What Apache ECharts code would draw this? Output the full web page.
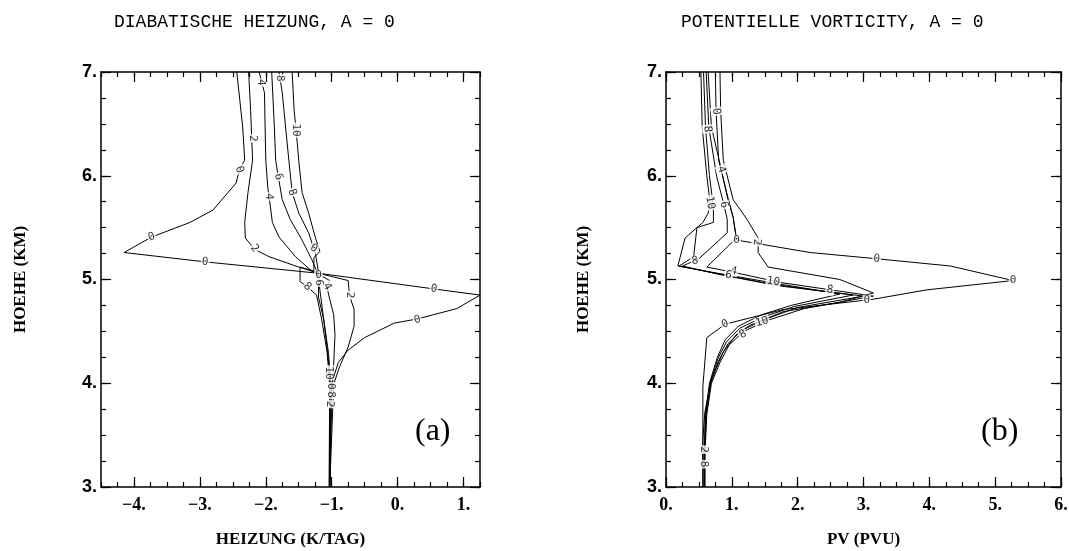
<!DOCTYPE html>
<html>
<head>
<meta charset="utf-8">
<script src="https://cdn.jsdelivr.net/npm/echarts@6/dist/echarts.min.js"></script>
<style>
  html, body { margin: 0; padding: 0; background: #fff; }
  #chart { width: 1069px; height: 551px; }
</style>
</head>
<body>
<div id="chart"></div>
<script>
// tick labels
const heizTicks = [-4, -3, -2, -1, 0, 1];
const pvTicks = [0, 1, 2, 3, 4, 5, 6];
const hoeheTicks = [3, 4, 5, 6, 7];

// (a) Diabatische Heizung: [K/Tag, km]
const heiz0 = [[-2.44, 7.0], [-2.35, 6.47], [-2.32, 6.15], [-2.40, 6.06], [-2.45, 5.93], [-2.80, 5.67], [-3.15, 5.55], [-3.73, 5.41], [-4.15, 5.26], [-2.92, 5.17], [-1.20, 5.06], [0.54, 4.91], [1.25, 4.85], [0.90, 4.72], [0.30, 4.62], [-0.05, 4.58], [-0.50, 4.44], [-0.75, 4.32], [-0.90, 4.20], [-0.97, 4.06], [-1.00, 3.97], [-1.03, 3.0]];
const heiz2 = [[-2.26, 7.0], [-2.23, 6.63], [-2.20, 6.15], [-2.27, 5.84], [-2.32, 5.55], [-2.31, 5.40], [-2.17, 5.29], [-1.95, 5.22], [-1.50, 5.12], [-1.20, 5.06], [-0.75, 4.99], [-0.73, 4.85], [-0.66, 4.71], [-0.66, 4.55], [-0.75, 4.35], [-0.88, 4.16], [-0.97, 3.99], [-1.03, 3.0]];
const heiz4 = [[-2.10, 7.0], [-2.02, 6.80], [-2.01, 6.47], [-2.00, 6.15], [-1.97, 5.89], [-1.93, 5.70], [-1.90, 5.55], [-1.80, 5.41], [-1.55, 5.22], [-1.30, 5.08], [-1.20, 5.05], [-1.03, 4.99], [-1.07, 4.92], [-1.03, 4.81], [-0.97, 4.66], [-0.95, 4.47], [-0.97, 4.18], [-1.00, 3.94], [-1.03, 3.0]];
const heiz6 = [[-1.91, 7.0], [-1.87, 6.47], [-1.85, 6.15], [-1.81, 5.99], [-1.75, 5.77], [-1.63, 5.58], [-1.45, 5.38], [-1.30, 5.19], [-1.22, 5.07], [-1.20, 4.97], [-1.20, 4.83], [-1.12, 4.61], [-1.05, 4.30], [-1.01, 3.99], [-1.03, 3.0]];
const heiz8 = [[-1.80, 7.0], [-1.75, 6.80], [-1.70, 6.47], [-1.65, 6.15], [-1.60, 5.84], [-1.50, 5.64], [-1.35, 5.45], [-1.25, 5.26], [-1.20, 5.07], [-1.48, 5.12], [-1.48, 4.98], [-1.37, 4.93], [-1.23, 4.85], [-1.15, 4.61], [-1.07, 4.30], [-1.03, 3.99], [-1.03, 3.0]];
const heiz10 = [[-1.60, 7.0], [-1.57, 6.63], [-1.54, 6.44], [-1.50, 6.15], [-1.45, 5.84], [-1.35, 5.64], [-1.25, 5.41], [-1.18, 5.27], [-1.27, 5.21], [-1.27, 5.09], [-1.20, 5.04], [-1.18, 4.90], [-1.12, 4.61], [-1.05, 4.23], [-1.03, 3.94], [-1.04, 3.0]];
// contour labels: [x, y, text, rotate]
const heizLabels = [
  [-2.40, 6.06, '0', -70], [-3.73, 5.41, '0', 20], [-2.92, 5.17, '0', -5], [0.55, 4.91, '0', -8], [0.30, 4.61, '0', 15], [-1.20, 5.04, '0', 0],
  [-2.20, 6.36, '2', -90], [-2.17, 5.30, '2', -50], [-0.73, 4.85, '2', -90], [-1.03, 3.80, '2', -90],
  [-2.08, 6.90, '4', -90], [-1.96, 5.80, '4', -90], [-1.07, 4.93, '4', -60],
  [-1.81, 5.99, '6', -75], [-1.20, 4.97, '6', -90],
  [-1.78, 6.94, '8', -90], [-1.60, 5.84, '8', -70], [-1.37, 4.93, '8', -40], [-1.02, 3.89, '8', -90],
  [-1.54, 6.44, '10', -90], [-1.27, 5.30, '0', -30], [-1.05, 4.10, '10', -90], [-1.02, 3.97, '0', -90]
];

// (b) Potentielle Vorticity: [PVU, km]
const pv0 = [[0.75, 7.0], [0.76, 6.63], [0.80, 6.15], [0.92, 5.84], [1.02, 5.60], [1.07, 5.38], [2.19, 5.26], [3.20, 5.20], [4.32, 5.13], [5.27, 4.99], [3.96, 4.90], [3.15, 4.81], [1.78, 4.71], [0.90, 4.57], [0.62, 4.44], [0.56, 3.97], [0.56, 3.0]];
const pv2 = [[0.82, 7.0], [0.83, 6.63], [0.87, 6.15], [1.02, 5.77], [1.23, 5.58], [1.40, 5.40], [1.40, 5.26], [1.55, 5.12], [2.64, 5.00], [3.15, 4.87], [2.64, 4.78], [1.78, 4.69], [1.28, 4.56], [1.07, 4.47], [0.87, 4.30], [0.69, 4.04], [0.59, 3.72], [0.56, 3.46], [0.56, 3.0]];
const pv4 = [[0.64, 7.0], [0.69, 6.47], [0.84, 6.06], [0.94, 5.77], [1.02, 5.60], [1.07, 5.40], [0.62, 5.12], [1.02, 5.07], [1.75, 4.97], [3.15, 4.84], [2.10, 4.72], [1.56, 4.61], [1.18, 4.50], [0.96, 4.37], [0.82, 4.20], [0.69, 4.0], [0.62, 3.7], [0.59, 3.3], [0.59, 3.0]];
const pv6 = [[0.61, 7.0], [0.65, 6.47], [0.77, 5.99], [0.88, 5.72], [0.93, 5.58], [0.93, 5.45], [0.50, 5.20], [0.25, 5.13], [0.80, 5.05], [1.70, 4.94], [3.00, 4.84], [2.00, 4.73], [1.52, 4.62], [1.15, 4.51], [0.94, 4.38], [0.80, 4.22], [0.68, 4.0], [0.61, 3.7], [0.59, 3.3], [0.59, 3.0]];
const pv8 = [[0.57, 7.0], [0.60, 6.47], [0.66, 6.0], [0.72, 5.70], [0.72, 5.55], [0.47, 5.50], [0.42, 5.22], [0.20, 5.13], [0.75, 5.06], [1.65, 4.95], [2.84, 4.85], [1.95, 4.74], [1.48, 4.64], [1.12, 4.53], [0.92, 4.40], [0.79, 4.24], [0.67, 4.0], [0.60, 3.7], [0.58, 3.3], [0.58, 3.0]];
const pv10 = [[0.53, 7.0], [0.55, 6.47], [0.62, 6.0], [0.67, 5.74], [0.64, 5.64], [0.56, 5.55], [0.29, 5.40], [0.18, 5.13], [0.70, 5.07], [1.60, 4.97], [2.64, 4.86], [1.90, 4.75], [1.45, 4.66], [1.10, 4.55], [0.90, 4.42], [0.78, 4.25], [0.66, 4.0], [0.60, 3.7], [0.58, 3.3], [0.58, 3.0]];
const pvLabels = [
  [0.76, 6.62, '0', -80], [1.07, 5.38, '0', 0], [3.20, 5.20, '0', -3], [5.27, 4.99, '0', 0], [3.05, 4.80, '0', 0], [0.90, 4.57, '0', 20],
  [1.38, 5.36, '2', -90],
  [0.84, 6.06, '4', -70], [1.03, 5.08, '4', -10],
  [0.88, 5.72, '6', -80], [0.95, 5.04, '6', -10],
  [0.63, 6.45, '8', -85], [0.44, 5.18, '8', 10], [2.49, 4.90, '8', -8], [1.17, 4.47, '8', 30],
  [0.67, 5.74, '10', -80], [1.63, 4.98, '10', -8], [1.46, 4.59, '10', 15],
  [0.57, 3.36, '2', -90], [0.57, 3.22, '8', -90]
];

const chart = echarts.init(document.getElementById('chart'), null, { renderer: 'canvas' });

function quarters(min, max) {
  const out = [];
  for (let v = min; v <= max + 1e-9; v += 0.25) out.push(Math.round(v * 100) / 100);
  return out;
}
function fmt(v) {
  return (v < 0 ? '\u2212' : '') + Math.abs(v) + '.';
}

// four axes per dimension and grid: main (labels, major ticks), main minor, opposite major, opposite minor
function axesFor(dim, grid, min, max, major, name, nameGap, labelFont) {
  const pos = dim === 'x' ? ['bottom', 'top'] : ['left', 'right'];
  const minor = quarters(min, max);
  const mk = (p, vals, len, main, line) => ({
    type: 'value', gridIndex: grid, min: min, max: max,
    position: p,
    splitLine: { show: false },
    name: main ? name : '',
    nameLocation: 'middle',
    nameGap: nameGap,
    nameTextStyle: { fontFamily: 'Liberation Serif', fontWeight: 'bold', fontSize: 17, color: '#000' },
    axisLine: { show: line, onZero: false, lineStyle: { color: '#000', width: 1.5 } },
    axisTick: { show: true, inside: true, length: len, customValues: vals, lineStyle: { color: '#000', width: 1.2 } },
    axisLabel: main ? Object.assign({ show: true, customValues: major, formatter: fmt, color: '#000' }, labelFont) : { show: false }
  });
  return [
    mk(pos[0], major, 10, true, true),
    mk(pos[0], minor, 5, false, false),
    mk(pos[1], major, 10, false, true),
    mk(pos[1], minor, 5, false, false)
  ];
}

const xFont = { fontFamily: 'Liberation Serif', fontWeight: 'bold', fontSize: 18, margin: 9 };
const yFont = { fontFamily: 'Liberation Sans', fontWeight: 'bold', fontSize: 18, margin: 4 };

const xAxes = axesFor('x', 0, -4.5, 1.25, heizTicks, 'HEIZUNG (K/TAG)', 44, xFont)
  .concat(axesFor('x', 1, 0, 6, pvTicks, 'PV (PVU)', 44, xFont));
const yAxes = axesFor('y', 0, 3, 7, hoeheTicks, 'HOEHE (KM)', 72, yFont)
  .concat(axesFor('y', 1, 3, 7, hoeheTicks, 'HOEHE (KM)', 74, yFont));

function lineSeries(data, axis) {
  return {
    type: 'line', data: data, xAxisIndex: axis, yAxisIndex: axis,
    showSymbol: false, symbol: 'none', clip: true, silent: true,
    lineStyle: { color: '#000', width: 1 }, z: 2
  };
}
function labelSeries(labels, axis) {
  return {
    type: 'scatter', xAxisIndex: axis, yAxisIndex: axis, symbolSize: 1, silent: true, z: 5,
    itemStyle: { color: 'rgba(0,0,0,0)' },
    data: labels.map(l => ({ value: [l[0], l[1], l[2]], label: { rotate: l[3] } })),
    label: {
      show: true, position: 'inside', formatter: p => p.value[2],
      fontFamily: 'DejaVu Sans Mono', fontSize: 11, color: '#000',
      backgroundColor: '#fff', padding: [0, 1]
    }
  };
}

const option = {
  animation: false,
  backgroundColor: '#fff',
  title: [
    { text: 'DIABATISCHE HEIZUNG, A = 0', left: 109, top: 8, textStyle: { fontFamily: 'Liberation Mono', fontWeight: 'normal', fontSize: 18, color: '#000' } },
    { text: 'POTENTIELLE VORTICITY, A = 0', left: 676, top: 8, textStyle: { fontFamily: 'Liberation Mono', fontWeight: 'normal', fontSize: 18, color: '#000' } }
  ],
  grid: [
    { left: 101, top: 72, width: 379, height: 415, outerBoundsMode: 'none' },
    { left: 666, top: 72, width: 395, height: 415, outerBoundsMode: 'none' }
  ],
  xAxis: xAxes,
  yAxis: yAxes,
  graphic: [
    { type: 'text', left: 415, top: 416, style: { text: '(a)', font: '32px "Liberation Serif"', fill: '#000' } },
    { type: 'text', left: 981, top: 416, style: { text: '(b)', font: '32px "Liberation Serif"', fill: '#000' } }
  ],
  series: [
    lineSeries(heiz0, 0), lineSeries(heiz2, 0), lineSeries(heiz4, 0),
    lineSeries(heiz6, 0), lineSeries(heiz8, 0), lineSeries(heiz10, 0),
    labelSeries(heizLabels, 0),
    lineSeries(pv0, 4), lineSeries(pv2, 4), lineSeries(pv4, 4),
    lineSeries(pv6, 4), lineSeries(pv8, 4), lineSeries(pv10, 4),
    labelSeries(pvLabels, 4)
  ]
};

chart.setOption(option);
</script>
</body>
</html>
